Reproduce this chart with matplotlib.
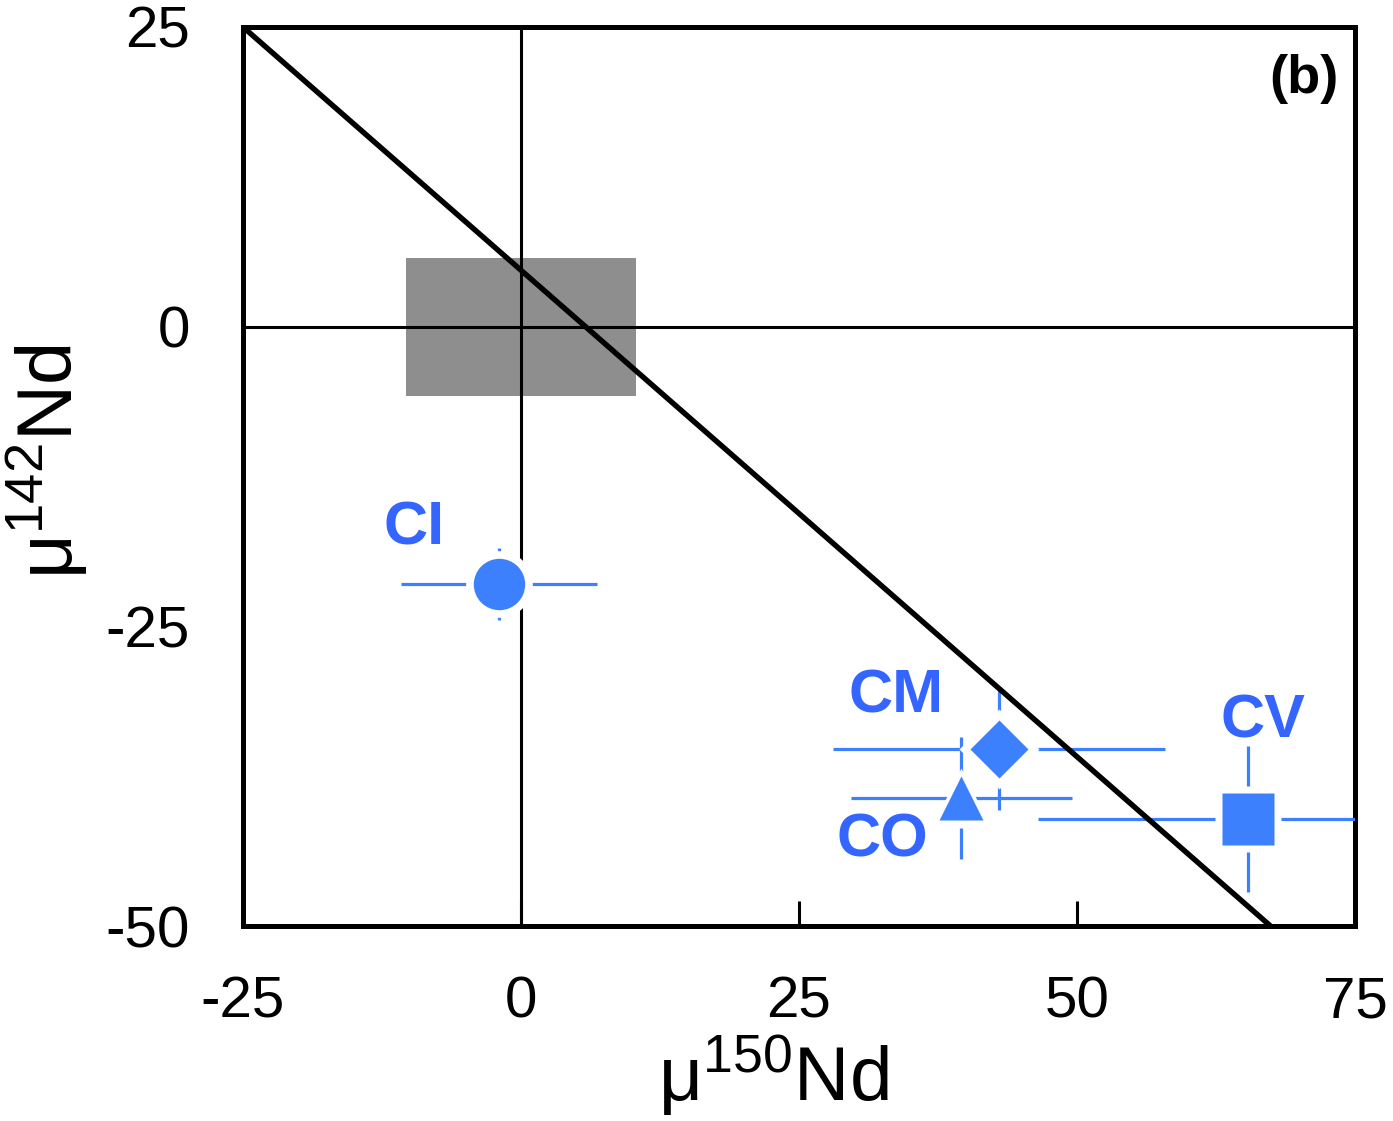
import matplotlib
matplotlib.use("Agg")
import matplotlib.pyplot as plt
import numpy as np

plt.rcParams['font.family'] = ['Liberation Sans', 'DejaVu Sans']
plt.rcParams['mathtext.fontset'] = 'custom'
plt.rcParams['mathtext.rm'] = 'Liberation Sans'
plt.rcParams['mathtext.it'] = 'Liberation Sans:italic'
plt.rcParams['mathtext.bf'] = 'Liberation Sans:bold'

# Data
groups = ['CI', 'CM', 'CO', 'CV']
x_vals = [-2.0, 43.0, 39.6, 65.4]
y_vals = [-21.5, -35.2, -39.3, -41.1]
x_err = [8.8, 14.95, 9.95, 18.9]
y_err = [3.0, 5.1, 5.1, 6.1]
markers = ['o', 'D', '^', 's']
marker_sizes = [37, 30, 32, 37]
label_x = [-9.6, 33.7, 32.5, 66.7]
label_y = [-16.9, -30.9, -42.9, -33.0]

# Terrestrial reference box (x range, y range)
box_x = [-10.3, 10.3]
box_y = [-5.8, 5.7]

# Reference line endpoints
line_x = [-25.0, 67.4]
line_y = [25.0, -50.0]

x_ticks = [-25, 0, 25, 50, 75]
y_ticks = [-50, -25, 0, 25]

blue = '#3d80fd'
text_blue = '#3466ff'

fig = plt.figure(figsize=(13.93, 11.21), dpi=100)
ax = fig.add_axes([243/1393, (1121-926)/1121, (1355-243)/1393, (926-27)/1121])

ax.set_xlim(-25, 75)
ax.set_ylim(-50, 25)

# grey box
ax.fill_between(box_x, box_y[0], box_y[1], color='#8e8e8e', lw=0, zorder=1)

# zero lines
ax.axhline(0, color='black', lw=2.2, zorder=2)
ax.axvline(0, color='black', lw=2.2, zorder=2)

# error bars
for i in range(len(groups)):
    ax.errorbar(x_vals[i], y_vals[i], xerr=x_err[i], yerr=y_err[i],
                fmt='none', ecolor=blue, elinewidth=2.3, capsize=0, zorder=3)

# diagonal line
ax.plot(line_x, line_y, color='black', lw=3.9, zorder=4, solid_capstyle='butt')

# white halos then markers
for i in range(len(groups)):
    ax.plot(x_vals[i], y_vals[i], marker=markers[i], ms=marker_sizes[i] + 11,
            color='white', mec='none', ls='none', zorder=5)
for i in range(len(groups)):
    ax.plot(x_vals[i], y_vals[i], marker=markers[i], ms=marker_sizes[i],
            color=blue, mec='none', ls='none', zorder=6)
    ax.text(label_x[i], label_y[i], groups[i], color=text_blue, fontsize=44,
            fontweight='bold', ha='center', va='center', zorder=7)

ax.text(0.954, 0.942, '(b)', transform=ax.transAxes, fontsize=39,
        fontweight='bold', ha='center', va='center')

ax.set_xticks(x_ticks)
ax.set_yticks(y_ticks)
ax.set_xticklabels([str(t) for t in x_ticks])
ax.set_yticklabels([str(t) for t in y_ticks])
ax.tick_params(axis='x', direction='in', length=18, width=2.2, labelsize=42, pad=36)
ax.tick_params(axis='y', direction='in', length=0, labelsize=42, pad=38)

for s in ax.spines.values():
    s.set_linewidth(3.6)

ax.set_xlabel('μ$^{150}$Nd', fontsize=55)
ax.set_ylabel('μ$^{142}$Nd', fontsize=56)
ax.xaxis.set_label_coords(0.477, -0.119)
ax.yaxis.set_label_coords(-0.138, 0.516)

fig.savefig('out.png', dpi=100)
